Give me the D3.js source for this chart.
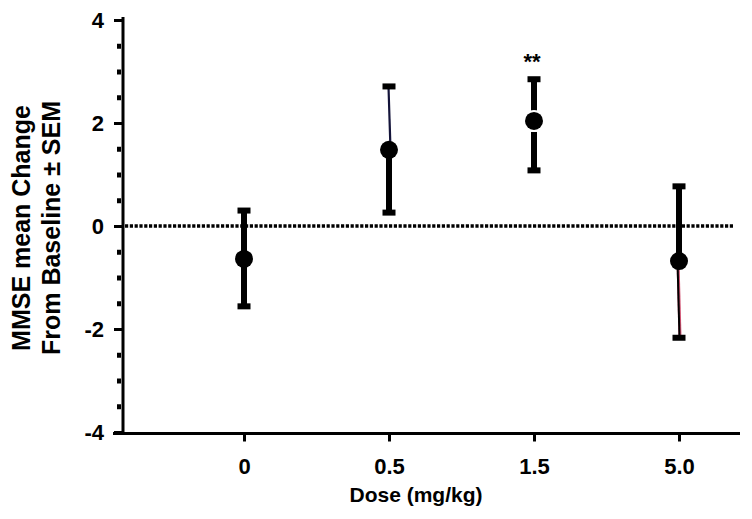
<!DOCTYPE html>
<html>
<head>
<meta charset="utf-8">
<script src="https://cdn.jsdelivr.net/npm/d3@7"></script>
<style>
  html, body { margin: 0; padding: 0; background: #fff; }
  svg { display: block; }
  text { font-family: "Liberation Sans", Arial, Helvetica, sans-serif; font-weight: bold; fill: #000; }
</style>
</head>
<body>
<svg id="chart" width="752" height="519"></svg>
<script>
// ---- data ----
const categories = ["0", "0.5", "1.5", "5.0"];
const means = [-0.64, 1.48, 2.04, -0.68];
const upperValues = [0.30, 2.71, 2.85, 0.77];
const lowerValues = [-1.56, 0.26, 1.08, -2.17];
const significance = ["", "", "**", ""];
const yMajorTicks = [-4, -2, 0, 2, 4];
const yMinorTicks = [-3.5, -3, -2.5, -1.5, -1, -0.5, 0.5, 1, 1.5, 2.5, 3, 3.5];
const xTitle = "Dose (mg/kg)";
const yTitleLines = ["MMSE mean Change", "From Baseline \u00B1 SEM"];

// ---- layout ----
const svg = d3.select("#chart");
svg.append("rect").attr("width", 752).attr("height", 519).attr("fill", "#fff");

const axisX = 123;         // y-axis line position
const plotRight = 740;
const y = d3.scaleLinear().domain([-4, 4]).range([432, 20]);
const x = d3.scalePoint().domain(categories).range([244, 679]);

// zero reference line (dotted)
svg.append("line")
  .attr("x1", axisX + 2).attr("x2", 734)
  .attr("y1", y(0)).attr("y2", y(0))
  .attr("stroke", "#000").attr("stroke-width", 3.5)
  .attr("stroke-dasharray", "3.2,1.6");

// y axis: minor ticks
const gMinor = svg.append("g").attr("transform", `translate(${axisX - 2},0)`)
  .call(d3.axisLeft(y).tickValues(yMinorTicks).tickSize(4).tickSizeOuter(0).tickFormat(""));
gMinor.select(".domain").remove();
gMinor.selectAll(".tick line").attr("stroke", "#000").attr("stroke-width", 5);

// y axis: major ticks + labels
const gMajor = svg.append("g").attr("transform", `translate(${axisX},0)`)
  .call(d3.axisLeft(y).tickValues(yMajorTicks).tickSize(9).tickSizeOuter(0).tickPadding(10).tickFormat(d => String(d)));
gMajor.select(".domain").remove();
gMajor.selectAll(".tick line").attr("stroke", "#000").attr("stroke-width", 3);
gMajor.selectAll(".tick text")
  .attr("font-size", 22).attr("font-family", "Liberation Sans, Arial, sans-serif")
  .attr("font-weight", "bold").attr("fill", "#000");

// y axis line
svg.append("line")
  .attr("x1", axisX).attr("x2", axisX)
  .attr("y1", y(4) - 3).attr("y2", y(-4) + 2)
  .attr("stroke", "#000").attr("stroke-width", 3);

// x axis line
svg.append("line")
  .attr("x1", axisX - 10).attr("x2", plotRight)
  .attr("y1", y(-4) + 1.5).attr("y2", y(-4) + 1.5)
  .attr("stroke", "#000").attr("stroke-width", 3);

// x axis ticks + labels
const gX = svg.append("g").attr("transform", `translate(0,${y(-4) + 1.5})`)
  .call(d3.axisBottom(x).tickSize(8).tickSizeOuter(0).tickPadding(17));
gX.select(".domain").remove();
gX.selectAll(".tick line").attr("stroke", "#000").attr("stroke-width", 3);
gX.selectAll(".tick text")
  .attr("font-size", 22).attr("font-family", "Liberation Sans, Arial, sans-serif")
  .attr("font-weight", "bold").attr("fill", "#000");

// axis titles
svg.append("text")
  .attr("x", 416).attr("y", 502)
  .attr("text-anchor", "middle").attr("font-size", 21)
  .text(xTitle);

const yTitle = svg.append("text")
  .attr("transform", "translate(0,228) rotate(-90)")
  .attr("text-anchor", "middle").attr("font-size", 25);
yTitle.selectAll("tspan").data(yTitleLines).join("tspan")
  .attr("x", 0)
  .attr("y", (d, i) => 30 + i * 30)
  .text(d => d);

// ---- error bars ----
const data = categories.map((c, i) => ({
  cat: c, mean: means[i], hi: upperValues[i], lo: lowerValues[i], sig: significance[i]
}));
// segments drawn thin in the original figure
const thinSegment = { "0.5": "upper", "5.0": "lower" };

const g = svg.append("g");
const barW = 6, capW = 13, capH = 6, r = 9;

data.forEach(d => {
  const cx = x(d.cat);
  const thin = thinSegment[d.cat];
  // upper segment
  if (thin === "upper") {
    g.append("line").attr("x1", cx + 1.5).attr("x2", cx - 0.5)
      .attr("y1", y(d.mean)).attr("y2", y(d.hi))
      .attr("stroke", "#14143a").attr("stroke-width", 2.2);
  } else {
    g.append("line").attr("x1", cx).attr("x2", cx)
      .attr("y1", y(d.mean)).attr("y2", y(d.hi))
      .attr("stroke", "#000").attr("stroke-width", barW);
  }
  // lower segment
  if (thin === "lower") {
    g.append("line").attr("x1", cx - 1).attr("x2", cx + 1)
      .attr("y1", y(d.mean)).attr("y2", y(d.lo))
      .attr("stroke", "#d05070").attr("stroke-width", 3);
    g.append("line").attr("x1", cx - 1.5).attr("x2", cx + 0.5)
      .attr("y1", y(d.mean)).attr("y2", y(d.lo))
      .attr("stroke", "#000").attr("stroke-width", 2);
  } else {
    const start = d.sig ? y(d.mean) + r + 2 : y(d.mean);
    g.append("line").attr("x1", cx).attr("x2", cx)
      .attr("y1", start).attr("y2", y(d.lo))
      .attr("stroke", "#000").attr("stroke-width", barW);
  }
  // caps
  [d.hi, d.lo].forEach(v => {
    g.append("rect")
      .attr("x", cx - capW / 2).attr("y", y(v) - capH / 2)
      .attr("width", capW).attr("height", capH).attr("fill", "#000");
  });
  // gap around the point for the marked dose
  if (d.sig) {
    g.append("circle").attr("cx", cx).attr("cy", y(d.mean)).attr("r", r + 2).attr("fill", "#fff");
  }
  g.append("circle").attr("cx", cx).attr("cy", y(d.mean)).attr("r", r).attr("fill", "#000");
  if (d.sig) {
    g.append("text").attr("x", cx - 2).attr("y", y(d.hi) - 10)
      .attr("text-anchor", "middle").attr("font-size", 22)
      .text(d.sig);
  }
});
</script>
</body>
</html>
